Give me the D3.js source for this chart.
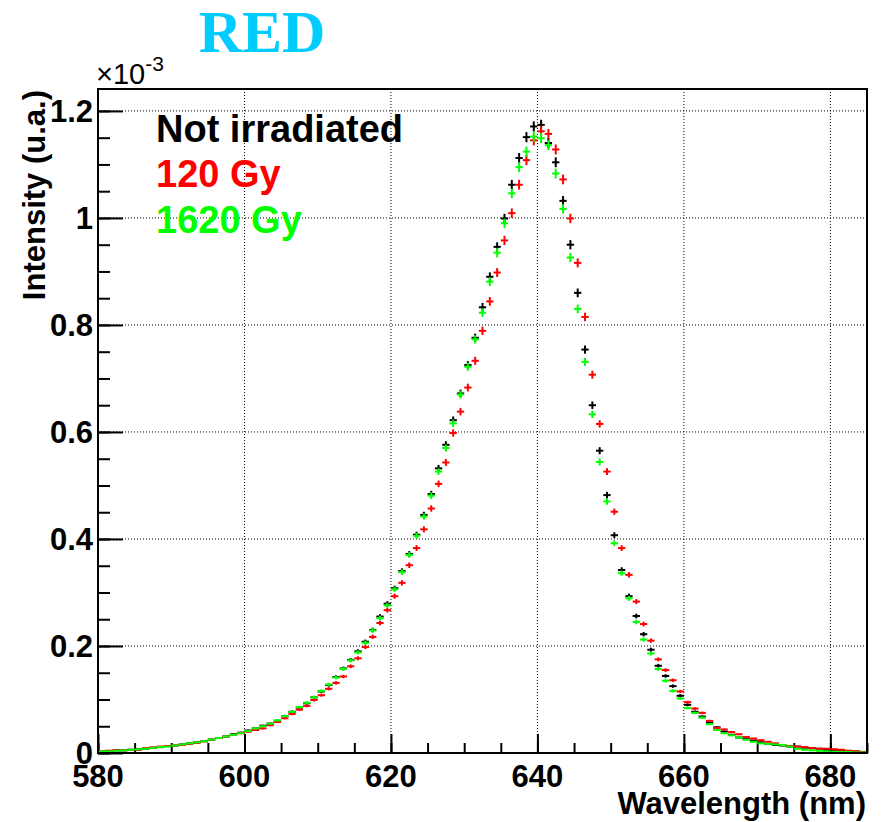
<!DOCTYPE html>
<html>
<head>
<meta charset="utf-8">
<script src="https://cdn.jsdelivr.net/npm/d3@7"></script>
<style>
  html, body { margin: 0; padding: 0; background: #fff; }
  svg { display: block; }
</style>
</head>
<body>
<svg id="chart" width="882" height="822"></svg>
<script>
// Bin lower edges (1 nm bins, 580..684)
const binStart = 580;
const binWidth = 1;
// Intensity values (x 1e-3) per bin
const notIrradiated = [
  0.003,0.004,0.005,0.005,0.006,0.007,0.008,0.010,0.011,0.013,
  0.014,0.016,0.018,0.020,0.022,0.025,0.028,0.031,0.035,0.038,
  0.042,0.046,0.051,0.055,0.060,0.069,0.077,0.085,0.093,0.104,
  0.115,0.127,0.142,0.158,0.174,0.190,0.208,0.230,0.255,0.279,
  0.308,0.340,0.372,0.408,0.445,0.484,0.532,0.576,0.622,0.672,
  0.725,0.776,0.833,0.890,0.946,0.999,1.062,1.112,1.151,1.171,
  1.174,1.140,1.104,1.032,0.950,0.860,0.754,0.650,0.565,0.482,
  0.407,0.342,0.293,0.256,0.222,0.193,0.163,0.144,0.125,0.107,
  0.090,0.077,0.068,0.057,0.048,0.040,0.034,0.029,0.026,0.023,
  0.020,0.017,0.015,0.014,0.012,0.012,0.010,0.009,0.008,0.006,
  0.006,0.005,0.004,0.003,0.002
];
const gy120 = [
  0.003,0.004,0.005,0.005,0.006,0.006,0.009,0.010,0.012,0.013,
  0.014,0.015,0.017,0.019,0.022,0.025,0.028,0.031,0.034,0.037,
  0.040,0.043,0.046,0.052,0.058,0.065,0.073,0.081,0.088,0.099,
  0.108,0.120,0.131,0.143,0.162,0.177,0.198,0.217,0.243,0.267,
  0.293,0.318,0.351,0.383,0.418,0.457,0.503,0.543,0.598,0.638,
  0.683,0.733,0.789,0.844,0.898,0.958,1.009,1.062,1.108,1.145,
  1.162,1.157,1.128,1.072,0.999,0.916,0.815,0.707,0.615,0.526,
  0.451,0.383,0.333,0.283,0.241,0.210,0.175,0.155,0.136,0.115,
  0.095,0.083,0.075,0.060,0.047,0.044,0.039,0.035,0.030,0.027,
  0.024,0.021,0.018,0.015,0.013,0.012,0.011,0.009,0.008,0.008,
  0.007,0.006,0.004,0.003,0.002
];
const gy1620 = [
  0.003,0.003,0.004,0.005,0.006,0.007,0.008,0.009,0.011,0.012,
  0.014,0.016,0.018,0.020,0.022,0.025,0.028,0.031,0.034,0.037,
  0.041,0.046,0.050,0.055,0.061,0.069,0.077,0.086,0.094,0.104,
  0.116,0.128,0.141,0.157,0.173,0.188,0.206,0.229,0.252,0.276,
  0.306,0.338,0.370,0.406,0.442,0.481,0.526,0.570,0.616,0.670,
  0.722,0.773,0.823,0.881,0.935,0.990,1.046,1.095,1.124,1.152,
  1.149,1.136,1.083,1.017,0.926,0.830,0.731,0.633,0.544,0.470,
  0.392,0.336,0.289,0.245,0.212,0.186,0.157,0.135,0.116,0.102,
  0.084,0.075,0.066,0.054,0.043,0.037,0.033,0.029,0.025,0.021,
  0.018,0.017,0.016,0.015,0.012,0.008,0.006,0.005,0.004,0.003,
  0.002,0.002,0.002,0.001,0.001
];
const seriesNames = ["Not irradiated", "120 Gy", "1620 Gy"];
const seriesColors = ["#000000", "#ff0000", "#00ff00"];
const xMajorTicks = [580, 600, 620, 640, 660, 680];
const yMajorTicks = [0, 0.2, 0.4, 0.6, 0.8, 1, 1.2];
const yTickLabels = ["0", "0.2", "0.4", "0.6", "0.8", "1", "1.2"];
const xDomain = [580, 685];
const yDomain = [0, 1.241];

const svg = d3.select("#chart");
const L = 98, R = 867, T = 89, B = 753;
const x = d3.scaleLinear().domain(xDomain).range([L, R]);
const y = d3.scaleLinear().domain(yDomain).range([B, T]);
const font = "'Liberation Sans', Arial, Helvetica, sans-serif";

// Grid
const grid = svg.append("g").attr("stroke", "#000").attr("stroke-width", 1)
  .attr("stroke-dasharray", "1,2");
xMajorTicks.filter(v => v > xDomain[0]).forEach(v => {
  grid.append("line").attr("x1", x(v)).attr("x2", x(v)).attr("y1", B).attr("y2", T);
});
yMajorTicks.filter(v => v > 0).forEach(v => {
  grid.append("line").attr("x1", L).attr("x2", R).attr("y1", y(v)).attr("y2", y(v));
});

// Axes with D3
const xAxisMajor = d3.axisBottom(x).tickValues(xMajorTicks).tickSize(-19).tickFormat("");
const xAxisMinor = d3.axisBottom(x).tickValues(d3.range(580, 686, 5)).tickSize(-10).tickFormat("");
const yAxisMajor = d3.axisLeft(y).tickValues(yMajorTicks).tickSize(-25).tickFormat("");
const yAxisMinor = d3.axisLeft(y).tickValues(d3.range(0, 1.2401, 0.05)).tickSize(-12).tickFormat("");
[xAxisMajor, xAxisMinor].forEach(ax => {
  const g = svg.append("g").attr("transform", `translate(0,${B})`).call(ax);
  g.select(".domain").remove();
  g.selectAll("line").attr("stroke", "#000").attr("stroke-width", 2);
});
[yAxisMajor, yAxisMinor].forEach(ax => {
  const g = svg.append("g").attr("transform", `translate(${L},0)`).call(ax);
  g.select(".domain").remove();
  g.selectAll("line").attr("stroke", "#000").attr("stroke-width", 2);
});

// Tick labels
svg.append("g").selectAll("text").data(xMajorTicks).join("text")
  .attr("x", d => x(d)).attr("y", 787)
  .attr("text-anchor", "middle")
  .attr("font-family", font).attr("font-weight", "bold").attr("font-size", 31)
  .text(d => d);
svg.append("g").selectAll("text").data(yMajorTicks).join("text")
  .attr("x", 93).attr("y", d => y(d) + 11)
  .attr("text-anchor", "end")
  .attr("font-family", font).attr("font-weight", "bold").attr("font-size", 31)
  .text((d, i) => yTickLabels[i]);

// Exponent
const ex = svg.append("text").attr("x", 96).attr("y", 84)
  .attr("font-family", font).attr("font-size", 29);
ex.append("tspan").text("\u00d710");
ex.append("tspan").attr("dy", -13).attr("font-size", 21).text("-3");

// Axis titles
svg.append("text").attr("x", 866).attr("y", 814).attr("text-anchor", "end")
  .attr("font-family", font).attr("font-weight", "bold").attr("font-size", 31)
  .text("Wavelength (nm)");
svg.append("text").attr("transform", "translate(45,90) rotate(-90)")
  .attr("text-anchor", "end")
  .attr("font-family", font).attr("font-weight", "bold").attr("font-size", 31)
  .text("Intensity (u.a.)");

// Histograms with error bars
const series = [notIrradiated, gy120, gy1620];
series.forEach((vals, si) => {
  const g = svg.append("g").attr("stroke", seriesColors[si]).attr("stroke-width", 2)
    .attr("fill", "none");
  vals.forEach((v, i) => {
    const lo = binStart + i * binWidth, hi = lo + binWidth, c = lo + binWidth / 2;
    const err = 0.0088 * Math.sqrt(v);
    g.append("line").attr("x1", x(lo)).attr("x2", x(hi)).attr("y1", y(v)).attr("y2", y(v));
    g.append("line").attr("x1", x(c)).attr("x2", x(c))
      .attr("y1", y(Math.max(0, v - err))).attr("y2", y(Math.min(yDomain[1], v + err)));
  });
});

// Frame
svg.append("rect").attr("x", L).attr("y", T).attr("width", R - L).attr("height", B - T)
  .attr("fill", "none").attr("stroke", "#000").attr("stroke-width", 2);

// Legend texts
const legendY = [142, 187, 233];
seriesNames.forEach((n, i) => {
  svg.append("text").attr("x", 156).attr("y", legendY[i])
    .attr("font-family", font).attr("font-weight", "bold").attr("font-size", 38)
    .attr("fill", seriesColors[i]).text(n);
});

// Title
svg.append("text").attr("x", 262).attr("y", 52).attr("text-anchor", "middle")
  .attr("font-family", "'Liberation Serif', 'Times New Roman', serif")
  .attr("font-weight", "bold").attr("font-size", 60).attr("fill", "#00ccff")
  .text("RED");
</script>
</body>
</html>
